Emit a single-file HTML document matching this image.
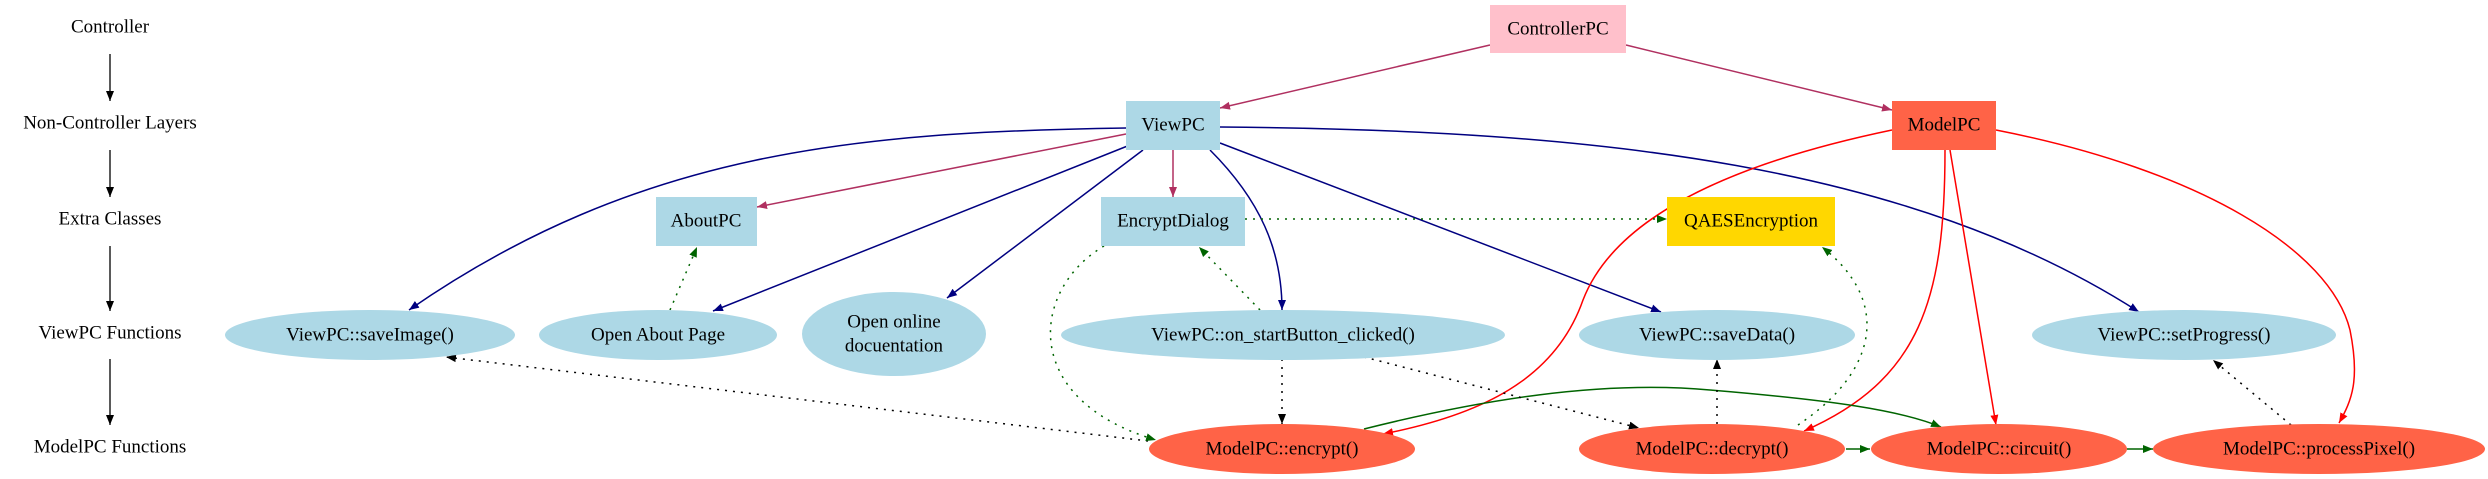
<!DOCTYPE html>
<html><head><meta charset="utf-8"><style>
html,body{margin:0;padding:0;background:#fff;}
svg{display:block;}
text{font-family:"Liberation Serif",serif;font-size:19px;text-anchor:middle;dominant-baseline:central;fill:#000;}
</style></head><body>
<svg width="2488" height="479" viewBox="0 0 2488 479" xmlns="http://www.w3.org/2000/svg">
<defs>
<marker id="mm" viewBox="0 0 10 10" refX="10" refY="5" markerWidth="10" markerHeight="10" markerUnits="userSpaceOnUse" orient="auto"><path d="M0,1 L10,5 L0,9z" fill="#b03060"/></marker>
<marker id="mn" viewBox="0 0 10 10" refX="10" refY="5" markerWidth="10" markerHeight="10" markerUnits="userSpaceOnUse" orient="auto"><path d="M0,1 L10,5 L0,9z" fill="#000080"/></marker>
<marker id="mr" viewBox="0 0 10 10" refX="10" refY="5" markerWidth="10" markerHeight="10" markerUnits="userSpaceOnUse" orient="auto"><path d="M0,1 L10,5 L0,9z" fill="#ff0000"/></marker>
<marker id="mg" viewBox="0 0 10 10" refX="10" refY="5" markerWidth="10" markerHeight="10" markerUnits="userSpaceOnUse" orient="auto"><path d="M0,1 L10,5 L0,9z" fill="#006400"/></marker>
<marker id="mb" viewBox="0 0 10 10" refX="10" refY="5" markerWidth="10" markerHeight="10" markerUnits="userSpaceOnUse" orient="auto"><path d="M0,1 L10,5 L0,9z" fill="#000"/></marker>
</defs>

<text x="110" y="27">Controller</text>
<text x="110" y="123">Non-Controller Layers</text>
<text x="110" y="219">Extra Classes</text>
<text x="110" y="333">ViewPC Functions</text>
<text x="110" y="447">ModelPC Functions</text>
<g stroke="#000" stroke-width="1.3" fill="none">
<line x1="110" y1="54" x2="110" y2="101" marker-end="url(#mb)"/>
<line x1="110" y1="150" x2="110" y2="197" marker-end="url(#mb)"/>
<line x1="110" y1="246" x2="110" y2="311" marker-end="url(#mb)"/>
<line x1="110" y1="359" x2="110" y2="425" marker-end="url(#mb)"/>
</g>

<g fill="none" stroke-width="1.5">
<path d="M1490,45 L1220,108" stroke="#b03060" marker-end="url(#mm)"/>
<path d="M1626,45 L1892,110" stroke="#b03060" marker-end="url(#mm)"/>
<path d="M1126,134 L757,207" stroke="#b03060" marker-end="url(#mm)"/>
<path d="M1173,150 L1173,197" stroke="#b03060" marker-end="url(#mm)"/>

<path d="M1126,128 C860,132 640,150 409,310" stroke="#000080" marker-end="url(#mn)"/>
<path d="M1130,145 L713,311" stroke="#000080" marker-end="url(#mn)"/>
<path d="M1143,150 L947,298" stroke="#000080" marker-end="url(#mn)"/>
<path d="M1210,150 C1260,200 1282,250 1282,310" stroke="#000080" marker-end="url(#mn)"/>
<path d="M1220,143 L1661,312" stroke="#000080" marker-end="url(#mn)"/>
<path d="M1220,127 C1600,130 1910,165 2139,312" stroke="#000080" marker-end="url(#mn)"/>

<path d="M1892,130 C1700,170 1610,230 1583,300 C1555,380 1480,415 1383,434" stroke="#ff0000" marker-end="url(#mr)"/>
<path d="M1945,150 C1945,300 1920,380 1804,431" stroke="#ff0000" marker-end="url(#mr)"/>
<path d="M1950,150 L1996,425" stroke="#ff0000" marker-end="url(#mr)"/>
<path d="M1996,130 C2200,170 2330,250 2350,330 C2360,380 2352,400 2339,423" stroke="#ff0000" marker-end="url(#mr)"/>

<path d="M1364,429 C1480,400 1600,380 1710,390 C1830,400 1900,410 1941,427" stroke="#006400" marker-end="url(#mg)"/>
<path d="M1846,449 L1870,449" stroke="#006400" marker-end="url(#mg)"/>
<path d="M2127,449 L2153,449" stroke="#006400" marker-end="url(#mg)"/>
</g>
<g fill="none" stroke-width="1.5" stroke-dasharray="2,6">
<path d="M1148,441 L446,357" stroke="#000" marker-end="url(#mb)"/>
<path d="M1282,359 L1282,424" stroke="#000" marker-end="url(#mb)"/>
<path d="M1364,357 L1639,428" stroke="#000" marker-end="url(#mb)"/>
<path d="M1717,424 L1717,359" stroke="#000" marker-end="url(#mb)"/>
<path d="M2291,425 L2213,360" stroke="#000" marker-end="url(#mb)"/>

<path d="M1260,310 L1199,247" stroke="#006400" marker-end="url(#mg)"/>
<path d="M670,310 L697,247" stroke="#006400" marker-end="url(#mg)"/>
<path d="M1104,246 C1030,290 1020,400 1156,440" stroke="#006400" marker-end="url(#mg)"/>
<path d="M1245,219 L1667,219" stroke="#006400" marker-end="url(#mg)"/>
<path d="M1798,425 C1880,370 1890,300 1822,247" stroke="#006400" marker-end="url(#mg)"/>
</g>

<rect x="1490" y="5" width="136" height="48" fill="#ffc0cb"/>
<text x="1558" y="29">ControllerPC</text>
<rect x="1126" y="101" width="94" height="49" fill="#add8e6"/>
<text x="1173" y="125">ViewPC</text>
<rect x="1892" y="101" width="104" height="49" fill="#ff6347"/>
<text x="1944" y="125">ModelPC</text>
<rect x="656" y="197" width="101" height="49" fill="#add8e6"/>
<text x="706" y="221">AboutPC</text>
<rect x="1101" y="197" width="144" height="49" fill="#add8e6"/>
<text x="1173" y="221">EncryptDialog</text>
<rect x="1667" y="197" width="168" height="49" fill="#ffd700"/>
<text x="1751" y="221">QAESEncryption</text>

<ellipse cx="370" cy="335" rx="145" ry="25" fill="#add8e6"/>
<text x="370" y="335">ViewPC::saveImage()</text>
<ellipse cx="658" cy="335" rx="119" ry="25" fill="#add8e6"/>
<text x="658" y="335">Open About Page</text>
<ellipse cx="894" cy="334" rx="92" ry="42" fill="#add8e6"/>
<text x="894" y="322">Open online</text>
<text x="894" y="346">docuentation</text>
<ellipse cx="1283" cy="335" rx="222" ry="25" fill="#add8e6"/>
<text x="1283" y="335">ViewPC::on_startButton_clicked()</text>
<ellipse cx="1717" cy="335" rx="138" ry="25" fill="#add8e6"/>
<text x="1717" y="335">ViewPC::saveData()</text>
<ellipse cx="2184" cy="335" rx="152" ry="25" fill="#add8e6"/>
<text x="2184" y="335">ViewPC::setProgress()</text>

<ellipse cx="1282" cy="449" rx="133" ry="25" fill="#ff6347"/>
<text x="1282" y="449">ModelPC::encrypt()</text>
<ellipse cx="1712" cy="449" rx="133" ry="25" fill="#ff6347"/>
<text x="1712" y="449">ModelPC::decrypt()</text>
<ellipse cx="1999" cy="449" rx="128" ry="25" fill="#ff6347"/>
<text x="1999" y="449">ModelPC::circuit()</text>
<ellipse cx="2319" cy="449" rx="166" ry="25" fill="#ff6347"/>
<text x="2319" y="449">ModelPC::processPixel()</text>
</svg>
</body></html>
